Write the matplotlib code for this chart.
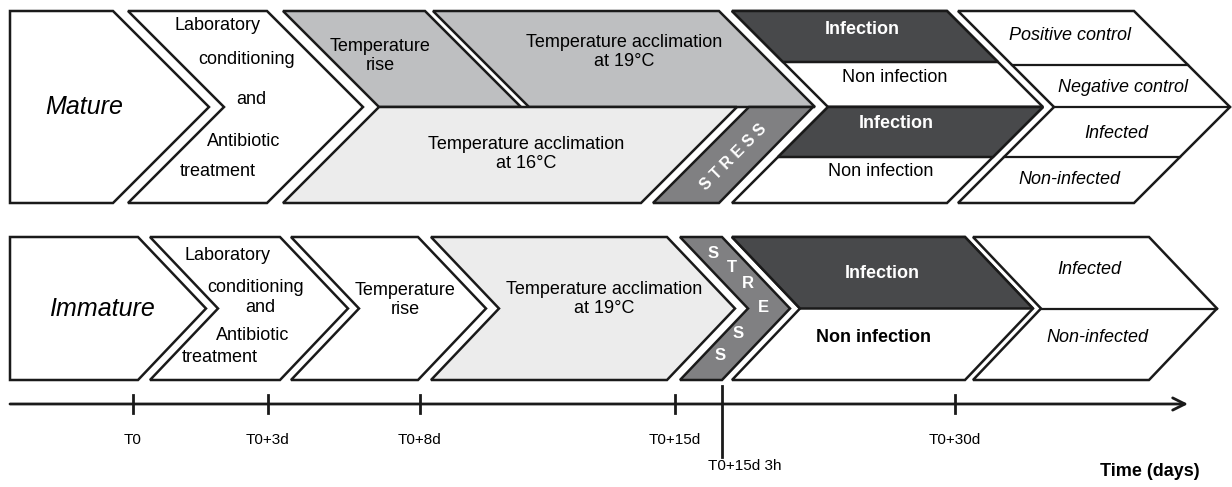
import matplotlib.pyplot as plt
from matplotlib.patches import Polygon

plt.rcParams['font.family'] = ['Liberation Sans', 'DejaVu Sans']

# --- layout values (pixel units) ---
top_rows = [11, 203]
bottom_rows = [237, 380]
top_depth = 96
bottom_depth = 68

# top row chevrons: (left x, right x, notched)
top_mature = (10, 113, False)
top_lab = (128, 267, True)
top_temp = (283, 719, True)
top_outcome = (958, 1134, True)
top_infection = (732, 947)

# bottom row chevrons
bottom_blocks = [(10, 138, False), (150, 280, True), (291, 418, True),
                 (431, 667, True), (680, 722, True), (732, 965, True),
                 (973, 1149, True)]
bottom_colors = ['white', 'white', 'white', '#ececec', '#808082', '#ffffff', 'white']

DARK = '#48494b'
MID = '#808082'
GREY = '#bebfc1'
LIGHT = '#ececec'
EDGE = '#1a1a1a'

lab_lines = ['Laboratory', 'conditioning', 'and', 'Antibiotic', 'treatment']
lab_top_pos = [(218, 25), (247, 60), (251, 100), (244, 141), (218, 172)]
lab_bottom_pos = [(227, 255), (256, 287), (260, 308), (253, 336), (220, 358)]

outcome_top = ['Positive control', 'Negative control', 'Infected', 'Non-infected']
outcome_top_y = [35, 88, 133, 180]
outcome_lines = [65, 107, 157]

stress_letters = ['S', 'T', 'R', 'E', 'S', 'S']
stress_pos = [(713, 253), (732, 268), (748, 284), (763, 307), (738, 334), (720, 355)]

tick_x = [133, 268, 420, 675, 955]
tick_labels = ['T0', 'T0+3d', 'T0+8d', 'T0+15d', 'T0+30d']
axis_y = 404


def chevron(xl, xr, y0, y1, d, notch=True):
    ym = (y0 + y1) / 2
    pts = [(xl, y0), (xr, y0), (xr + d, ym), (xr, y1), (xl, y1)]
    if notch:
        pts.append((xl + d, ym))
    return pts


def edge_x(x, y, y0, y1, d):
    ym = (y0 + y1) / 2
    return x + d * (1 - abs(y - ym) / ((y1 - y0) / 2))


def shape(ax, pts, color, lw=1.8):
    ax.add_patch(Polygon(pts, closed=True, facecolor=color, edgecolor=EDGE,
                         linewidth=lw, joinstyle='miter'))


fig = plt.figure(figsize=(12.32, 4.87), dpi=100)
ax = fig.add_axes([0, 0, 1, 1])
ax.set_xlim(0, 1232)
ax.set_ylim(487, 0)
ax.axis('off')

y0, y1 = top_rows
ym = (y0 + y1) / 2
d = top_depth

# ---------------- top row ----------------
for xl, xr, n in [top_mature, top_lab]:
    shape(ax, chevron(xl, xr, y0, y1, d, n), 'white')

tl, tr, _ = top_temp
shape(ax, [(tl, y0), (425, y0), (425 + d, ym), (tl + d, ym)], GREY)
shape(ax, [(433, y0), (tr, y0), (tr + d, ym), (433 + d, ym)], GREY)
shape(ax, [(tl + d, ym), (737, ym), (737 - d, y1), (tl, y1)], LIGHT)
shape(ax, [(749, ym), (813, ym), (tr, y1), (653, y1)], MID)

il, ir = top_infection
shape(ax, [(il, y0), (ir, y0), (ir + d, ym), (il + d, ym)], 'white')
shape(ax, [(il, y0), (ir, y0), (ir + 51, 62), (il + 51, 62)], DARK)
shape(ax, [(il + d, ym), (ir + d, ym), (ir, y1), (il, y1)], 'white')
shape(ax, [(il + d, ym), (ir + d, ym), (ir + d - 50, 157), (il + d - 50, 157)], DARK)

ol, orr, n = top_outcome
shape(ax, chevron(ol, orr, y0, y1, d, n), 'white')
for yy in outcome_lines:
    ax.plot([edge_x(ol, yy, y0, y1, d), edge_x(orr, yy, y0, y1, d)], [yy, yy],
            color=EDGE, lw=1.6)

# top texts
ax.text(84, ym, 'Mature', style='italic', fontsize=18, ha='center', va='center')
for s, (x, y) in zip(lab_lines, lab_top_pos):
    ax.text(x, y, s, fontsize=13, ha='center', va='center')
ax.text(380, 56, 'Temperature\nrise', fontsize=13, ha='center', va='center',
        linespacing=1.15)
ax.text(624, 52, 'Temperature acclimation\nat 19°C', fontsize=13, ha='center',
        va='center', linespacing=1.15)
ax.text(526, 154, 'Temperature acclimation\nat 16°C', fontsize=13, ha='center',
        va='center', linespacing=1.15)
ax.text(733, 157, 'S T R E S S', fontsize=11.5, fontweight='bold', color='white',
        rotation=45, ha='center', va='center')
ax.text(862, 30, 'Infection', fontsize=13, fontweight='bold', color='white',
        ha='center', va='center')
ax.text(895, 78, 'Non infection', fontsize=13, ha='center', va='center')
ax.text(896, 124, 'Infection', fontsize=13, fontweight='bold', color='white',
        ha='center', va='center')
ax.text(881, 171, 'Non infection', fontsize=13, ha='center', va='center')
for s, yy in zip(outcome_top, outcome_top_y):
    cx = (edge_x(ol, yy, y0, y1, d) + edge_x(orr, yy, y0, y1, d)) / 2
    ax.text(cx, yy, s, style='italic', fontsize=13, ha='center', va='center')

# ---------------- bottom row ----------------
b0, b1 = bottom_rows
bm = (b0 + b1) / 2
bd = bottom_depth
for (xl, xr, n), c in zip(bottom_blocks, bottom_colors):
    shape(ax, chevron(xl, xr, b0, b1, bd, n), c)

xl, xr, _ = bottom_blocks[5]
shape(ax, [(xl, b0), (xr, b0), (xr + bd, bm), (xl + bd, bm)], DARK)
xl, xr, _ = bottom_blocks[6]
ax.plot([xl + bd, xr + bd], [bm, bm], color=EDGE, lw=1.6)

ax.text(102, bm, 'Immature', style='italic', fontsize=18, ha='center', va='center')
for s, (x, y) in zip(lab_lines, lab_bottom_pos):
    ax.text(x, y, s, fontsize=13, ha='center', va='center')
ax.text(405, 300, 'Temperature\nrise', fontsize=13, ha='center', va='center',
        linespacing=1.15)
ax.text(604, 299, 'Temperature acclimation\nat 19°C', fontsize=13, ha='center',
        va='center', linespacing=1.15)
for s, (x, y) in zip(stress_letters, stress_pos):
    ax.text(x, y, s, fontsize=12, fontweight='bold', color='white',
            ha='center', va='center')
ax.text(882, 273, 'Infection', fontsize=13, fontweight='bold', color='white',
        ha='center', va='center')
ax.text(873, 338, 'Non infection', fontsize=13, fontweight='bold',
        ha='center', va='center')
ax.text(1089, 270, 'Infected', style='italic', fontsize=13, ha='center', va='center')
ax.text(1097, 337, 'Non-infected', style='italic', fontsize=13, ha='center',
        va='center')

# ---------------- time axis ----------------
ax.annotate('', xy=(1188, axis_y), xytext=(10, axis_y),
            arrowprops=dict(arrowstyle='->', lw=2, color=EDGE,
                            mutation_scale=22, shrinkA=0, shrinkB=0))
for x, s in zip(tick_x, tick_labels):
    ax.plot([x, x], [axis_y - 9, axis_y + 9], color=EDGE, lw=2)
    ax.text(x, 440, s, fontsize=11, ha='center', va='center')
ax.plot([722, 722], [386, 457], color=EDGE, lw=2)
ax.text(745, 466, 'T0+15d 3h', fontsize=11, ha='center', va='center')
ax.text(1200, 471, 'Time (days)', fontsize=13, fontweight='bold',
        ha='right', va='center')

fig.savefig('out.png', dpi=100)
